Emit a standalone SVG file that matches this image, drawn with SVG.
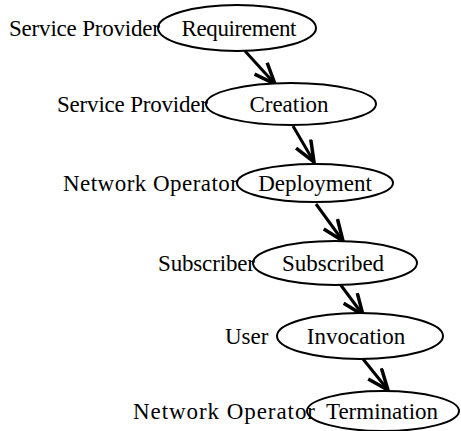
<svg xmlns="http://www.w3.org/2000/svg" width="461" height="431" viewBox="0 0 461 431">
<defs>
<style>
.node ellipse{fill:#fff;stroke:#000;stroke-width:2}
text{font-family:"Liberation Serif","Times New Roman",serif;font-size:23px;fill:#000}
.c{text-anchor:middle}
.edge{stroke:#000;stroke-width:3;fill:none}
</style>
<marker id="arr" viewBox="0 0 24 20" refX="22" refY="10" markerWidth="24" markerHeight="20" markerUnits="userSpaceOnUse" orient="auto">
<path d="M1,1.5 L22,10 L1,18.5" fill="none" stroke="#000" stroke-width="3.5" stroke-linejoin="miter"/>
</marker>
</defs>
<rect width="461" height="431" fill="#fff"/>
<g id="connectors">
<line class="edge" x1="245" y1="51" x2="275" y2="84" marker-end="url(#arr)"/>
<line class="edge" x1="293" y1="126" x2="314" y2="162" marker-end="url(#arr)"/>
<line class="edge" x1="316" y1="204" x2="343" y2="241" marker-end="url(#arr)"/>
<line class="edge" x1="340" y1="284" x2="363" y2="315" marker-end="url(#arr)"/>
<line class="edge" x1="363" y1="359" x2="388" y2="390" marker-end="url(#arr)"/>
</g>
<g id="n1" class="node">
<ellipse cx="237" cy="28" rx="79" ry="23"/>
<text class="c" x="239" y="36" textLength="115">Requirement</text>
<text x="9" y="36" textLength="151">Service Provider</text>
</g>
<g id="n2" class="node">
<ellipse cx="291" cy="104" rx="85" ry="21"/>
<text class="c" x="289" y="112">Creation</text>
<text x="57" y="112" textLength="151">Service Provider</text>
</g>
<g id="n3" class="node">
<ellipse cx="315" cy="183" rx="78" ry="19"/>
<text class="c" x="315" y="191">Deployment</text>
<text x="63" y="191" textLength="175">Network Operator</text>
</g>
<g id="n4" class="node">
<ellipse cx="335" cy="263" rx="82" ry="22"/>
<text class="c" x="333" y="271">Subscribed</text>
<text x="158" y="271" textLength="97">Subscriber</text>
</g>
<g id="n5" class="node">
<ellipse cx="360" cy="336" rx="83" ry="23"/>
<text class="c" x="356" y="344">Invocation</text>
<text x="225" y="344">User</text>
</g>
<g id="n6" class="node">
<ellipse cx="383" cy="411" rx="76" ry="20"/>
<text class="c" x="382" y="419">Termination</text>
<text x="133" y="419" textLength="182">Network Operator</text>
</g>
</svg>
